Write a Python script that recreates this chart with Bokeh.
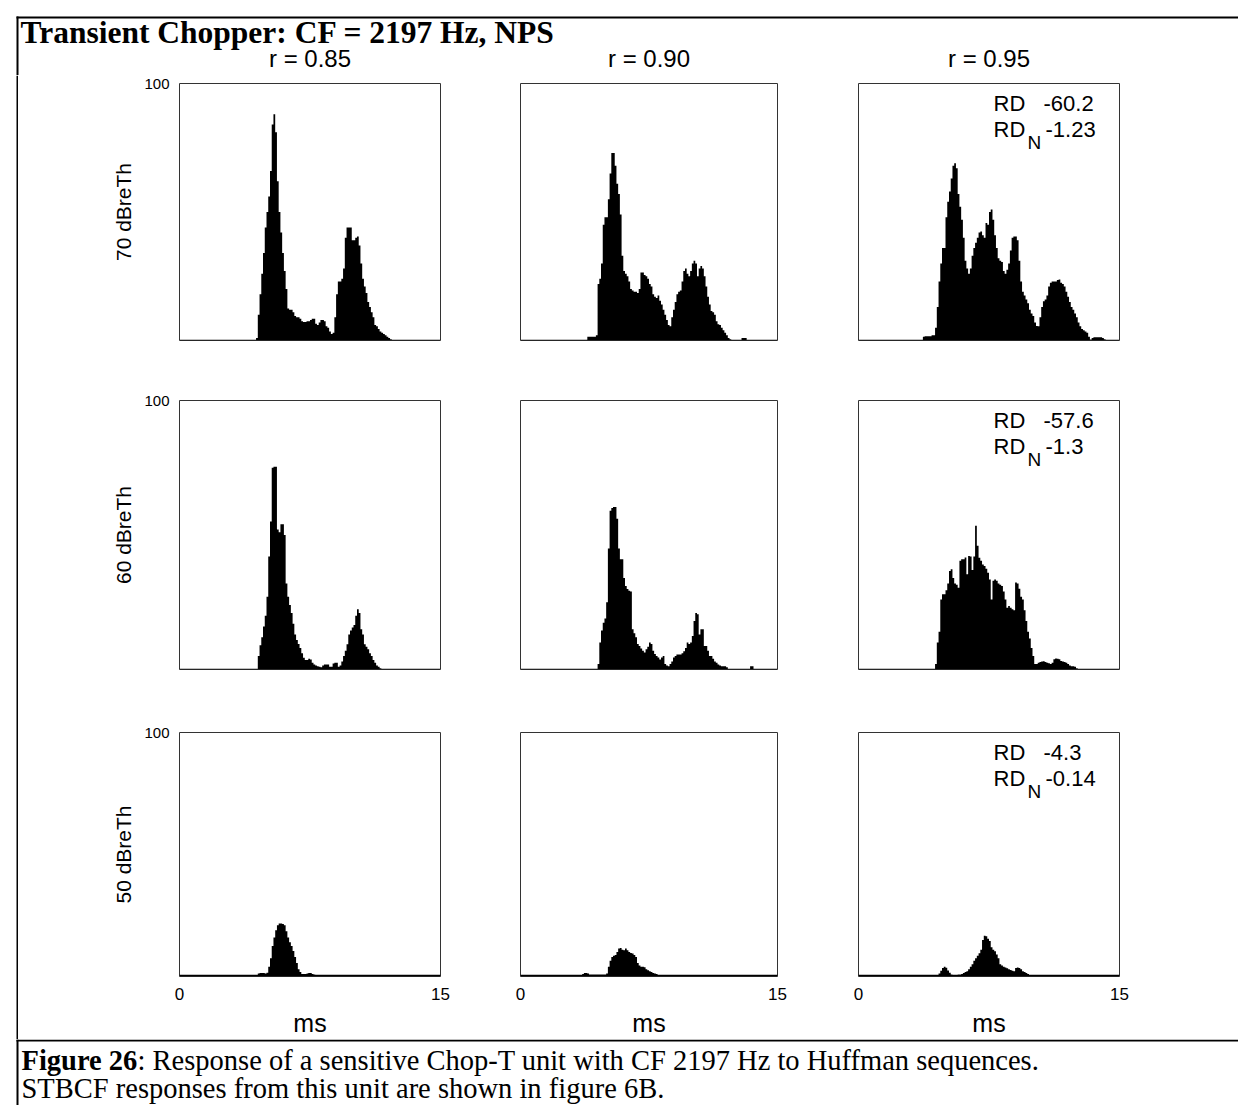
import numpy as np
from bokeh.plotting import figure
from bokeh.models import Range1d, FixedTicker
from bokeh.layouts import row, column
from bokeh.core.properties import value
from bokeh.embed import file_html
from bokeh.resources import INLINE

# ---------------------------------------------------------------- data
BIN_MS = 0.1          # histogram bin width (ms)
T_MAX = 15.0          # analysis window (ms)
RATE_MAX = 100.0      # y-axis top

levels = ["70 dBreTh", "60 dBreTh", "50 dBreTh"]
correlations = ["r = 0.85", "r = 0.90", "r = 0.95"]
x_ticks = [0, 15]
y_ticks = [100]
rd_values = ["-60.2", "-57.6", "-4.3"]
rdn_values = ["-1.23", "-1.3", "-0.14"]
floor_rate = [0.3, 0.3, 0.7]   # spontaneous level outside the listed bins

# 70 dB re threshold: first listed bin (ms) per correlation, then bin values
onset_70 = [4.4, 3.9, 3.7]
rate_70_r085 = [1, 10, 18, 26, 34, 44, 50, 56, 66, 84, 88, 81, 62, 50, 42, 34, 27, 20,
                12.5, 12, 12, 11, 9.5, 9, 9, 8.5, 7.5, 7.2, 7.2, 7.5, 7.5, 8, 8.5, 8.5,
                6.5, 6, 7, 8, 8, 7.5, 5.5, 5, 3.5, 2.5, 3, 9, 18, 23, 23, 24, 28, 40, 44,
                44, 44, 39, 39, 40, 40.5, 37, 30, 24, 21, 18.5, 15, 13, 11, 9, 6, 5.5,
                4.5, 3.5, 3, 2.5, 2, 1.5, 1, 0.5, 0.3]
rate_70_r090 = [1.5, 1.5, 1.5, 1.5, 1.5, 2, 22, 24, 30, 45, 48, 48, 55, 65, 73, 73, 68,
                61, 57, 49, 33, 27, 26, 25, 23, 20, 19.5, 19, 19, 18.5, 20, 26.5, 26.5,
                25.5, 25, 24, 22, 21, 18, 17, 16.5, 17.5, 15.5, 14, 12, 10, 8, 6, 5.5,
                9, 12, 15, 18, 19, 19.5, 23, 27, 28, 26, 25, 27, 30, 31, 30, 25, 28, 29,
                28, 25, 21, 17, 14, 11.5, 11, 10, 7.5, 6.3, 6, 5, 4, 3, 2, 1, 0.5,
                0.3, 0.3, 0.3, 0.3, 0.3, 0.3, 1, 1, 1]
rate_70_r095 = [1.5, 1.7, 1.7, 1.7, 1.7, 2, 2, 5, 13, 23, 30, 36, 36, 48, 54, 58, 63, 68,
                69, 67, 57, 52, 47, 40, 31, 28, 26, 28, 33, 36, 38, 40, 42, 42.4, 41, 40,
                45.7, 45, 50, 51, 47, 41, 36, 32, 31, 30.5, 27, 26, 27.5, 30, 35, 40,
                40.5, 40.5, 39, 31, 23, 19, 17.5, 16, 14.5, 12, 10.5, 9.5, 7, 5.6, 5.5,
                9, 13, 15.3, 16, 17.5, 21, 22.5, 23, 23, 23, 23.5, 23.7, 22.5, 22, 21,
                19, 17, 15, 13, 12, 10.5, 9, 7, 5.5, 4.5, 4, 3.5, 3, 1.5, 0.4, 1, 1.3,
                1.3, 1.3, 1.3, 1.3, 1, 0.5]

# 60 dB re threshold
onset_60 = [4.5, 4.5, 4.4]
rate_60_r085 = [5, 9, 12, 16, 20, 27, 42, 55, 75, 75.4, 75.4, 52, 51, 54, 54, 50, 32, 27,
                24, 21, 17, 13, 11, 9.5, 8, 6, 4.4, 3.5, 3.5, 4, 3.7, 2.5, 1.9, 1.5, 1.2,
                1, 0.8, 1.5, 1.9, 1.9, 1.9, 1, 1, 2.2, 2.5, 2.5, 1, 1.5, 3, 5, 7, 9.4,
                13, 14.5, 15.6, 16.5, 20, 22.4, 21, 15, 13, 9.4, 8.5, 7.5, 6, 5, 3.5,
                2.5, 1.5, 1, 0.5]
rate_60_r090 = [2, 10, 14.5, 17.4, 19, 25, 45, 59, 60, 60.4, 60.4, 56, 45, 41, 41, 34, 31,
                29.9, 29.3, 29, 15, 13.5, 12, 9.5, 8.7, 7.8, 7, 6.3, 7.5, 8.5, 10, 9.5,
                7, 5.8, 5, 4.5, 3.7, 4.5, 5, 2, 1.5, 1.2, 2, 3, 4.5, 5, 5.6, 5.6, 5.6,
                6, 6.8, 8, 10, 9.5, 10, 12.5, 18, 21, 20.5, 13, 15, 15, 8.7, 8.7, 7, 5,
                5, 4, 3, 2.5, 1.9, 1.5, 1.2, 1.2, 1.2, 0.8, 0.3, 0.3, 0.3, 0.3, 0.3,
                0.3, 0.3, 0.3, 0.3, 0.3, 0.3, 0.3, 0.3, 1.2, 1.2]
rate_60_r095 = [2, 10, 14, 26, 28, 28, 29.5, 32, 36.6, 37.3, 34, 32, 31.5, 30.4, 40.4, 41,
                41, 41.6, 35.4, 42.2, 42, 37, 42, 53.4, 46, 41.5, 40.4, 39, 38.5, 37.5,
                36, 33.5, 26, 33, 33.5, 33, 32, 31.5, 31, 29, 26, 23, 23.6, 23, 22.4,
                22, 32.3, 32, 30, 27, 26, 22, 18, 14, 11.5, 8, 5, 2, 2, 2.5, 2.8, 3,
                3.1, 2.8, 2.5, 2.3, 2, 2.5, 3.8, 4.1, 4, 3.8, 3.2, 3, 2.8, 2.5, 2, 1.5,
                1.2, 1.2, 1, 0.5]

# 50 dB re threshold
onset_50 = [4.5, 3.6, 4.5]
rate_50_r085 = [1.2, 1.4, 1.4, 1.4, 1.2, 1.5, 4, 7.5, 12.5, 16, 19, 21, 21.7, 21.7, 21.5,
                21, 18.5, 16, 14, 12.5, 10.5, 8, 5.5, 3, 1.8, 1, 1, 1, 1.2, 1.4, 1.4, 1,
                0.8]
rate_50_r090 = [1, 1.4, 1.4, 1.2, 0.8, 0.8, 0.8, 0.8, 0.8, 0.8, 0.8, 0.8, 0.8, 0.8, 1.2,
                4, 6.5, 8, 8.5, 8.8, 10, 11.5, 11.7, 11, 10.8, 11.5, 10.8, 10, 9.6, 9.4,
                8.8, 8, 5.5, 4.5, 4, 4, 3.8, 3, 2.6, 2.2, 1.8, 1.4, 1.2, 1]
rate_50_r095 = [0.7, 1.2, 2.4, 3.5, 4, 3.6, 2.5, 1.5, 0.8, 0.7, 0.7, 0.7, 0.8, 0.8, 1, 1.4,
                1.8, 2.2, 3, 4, 5, 6.5, 7.5, 8.5, 9.5, 11, 15, 16.7, 16.5, 15.5, 14.5,
                12, 11, 10.3, 9, 7.5, 5, 4.5, 4, 3.7, 3.4, 3, 2.7, 2.4, 2.2, 3.5, 3.7,
                3.5, 3, 2.2, 1.8, 1.4, 1, 0.7]

onsets = [onset_70, onset_60, onset_50]
rates = [[rate_70_r085, rate_70_r090, rate_70_r095],
         [rate_60_r085, rate_60_r090, rate_60_r095],
         [rate_50_r085, rate_50_r090, rate_50_r095]]

title_text = "Transient Chopper: CF = 2197 Hz, NPS"
caption_bold = "Figure 26"
caption_line1 = ": Response of a sensitive Chop-T unit with CF 2197 Hz to Huffman sequences."
caption_line2 = "STBCF responses from this unit are shown in figure 6B."

# ---------------------------------------------------------------- layout
SANS = "Liberation Sans"
SERIF = "Liberation Serif"

PAGE_W, PAGE_H = 1238, 1105
EDGE = 16                    # white margin outside the ruled box
RULE = 2                     # width of the box lines
BODY_X0 = EDGE + RULE
SEP_Y = 1039                 # rule between figure and caption
HEAD_END = 75                # bottom of the title strip

FRAME_X = [(179, 440), (520, 777), (858, 1119)]
FRAME_Y = [(83, 340), (400, 669), (732, 976)]
x_splits = [BODY_X0, 480, 818, PAGE_W]
y_splits = [HEAD_END, 370, 700, SEP_Y]

col_geom = [(FRAME_X[c][0] - x_splits[c], FRAME_X[c][1] - FRAME_X[c][0],
             x_splits[c + 1] - FRAME_X[c][1]) for c in range(3)]
row_geom = [(FRAME_Y[r][0] - y_splits[r], FRAME_Y[r][1] - FRAME_Y[r][0],
             y_splits[r + 1] - FRAME_Y[r][1]) for r in range(3)]

N_BINS = int(round(T_MAX / BIN_MS))
edges = np.round(np.arange(N_BINS + 1) * BIN_MS, 3)
RULE_MID = EDGE + RULE / 2


def binned(onset, vals, floor):
    out = np.full(N_BINS, floor, dtype=float)
    i0 = int(round(onset / BIN_MS))
    out[i0:i0 + len(vals)] = vals
    return out


def canvas(w, h):
    """Plain pixel-space figure used for rules and free text."""
    p = figure(width=w, height=h, x_range=Range1d(0, w), y_range=Range1d(h, 0),
               toolbar_location=None, output_backend="svg",
               x_axis_location=None, y_axis_location=None, min_border=0)
    p.outline_line_color = None
    p.grid.visible = False
    return p


def style_axis(ax, ticks, tick_size, tick_standoff, label, label_size, label_standoff):
    ax.ticker = FixedTicker(ticks=ticks)
    ax.major_tick_line_color = None
    ax.minor_tick_line_color = None
    ax.axis_line_color = None
    ax.major_label_standoff = tick_standoff
    ax.major_label_text_font = SANS
    ax.major_label_text_font_size = tick_size
    ax.major_label_text_color = "black"
    ax.axis_label = label
    ax.axis_label_text_font = SANS
    ax.axis_label_text_font_size = label_size
    ax.axis_label_text_font_style = "normal"
    ax.axis_label_text_color = "black"
    ax.axis_label_standoff = label_standoff


def panel(ri, ci):
    left, fw, right = col_geom[ci]
    top, fh, bottom = row_geom[ri]
    p = figure(width=left + fw + right, height=top + fh + bottom,
               x_range=Range1d(0, T_MAX), y_range=Range1d(0, RATE_MAX),
               toolbar_location=None, output_backend="svg",
               x_axis_location="below" if ri == 2 else None,
               y_axis_location="left" if ci == 0 else None,
               min_border_left=left, min_border_right=right,
               min_border_top=top, min_border_bottom=bottom)
    p.grid.visible = False
    p.outline_line_color = "#333333"
    p.outline_line_width = 1

    counts = binned(onsets[ri][ci], rates[ri][ci], floor_rate[ri])
    p.varea_step(x=edges, y1=np.zeros(len(edges)), y2=np.append(counts, counts[-1]),
                 step_mode="after", fill_color="black")

    if ci == 0:
        style_axis(p.yaxis[0], y_ticks, "15px", 4, levels[ri], "21px", 6)
    if ri == 2:
        style_axis(p.xaxis[0], x_ticks, "17px", 5, "ms", "25px", 6)

    if ci == 2:
        common = dict(text_font=value(SANS), text_baseline="middle",
                      text_align="left", text_color="black")
        p.text(x=[T_MAX], y=[RATE_MAX], text=["RD"], x_offset=-126, y_offset=20,
               text_font_size="22px", **common)
        p.text(x=[T_MAX], y=[RATE_MAX], text=[rd_values[ri]], x_offset=-76, y_offset=20,
               text_font_size="22px", **common)
        p.text(x=[T_MAX], y=[RATE_MAX], text=["RD"], x_offset=-126, y_offset=46,
               text_font_size="22px", **common)
        p.text(x=[T_MAX], y=[RATE_MAX], text=["N"], x_offset=-92, y_offset=59,
               text_font_size="19px", **common)
        p.text(x=[T_MAX], y=[RATE_MAX], text=[rdn_values[ri]], x_offset=-74, y_offset=46,
               text_font_size="22px", **common)
    return p


# title strip: top rule, start of the left rule, title and column headings
header = canvas(PAGE_W, HEAD_END)
header.segment(x0=[EDGE], y0=[RULE_MID], x1=[PAGE_W], y1=[RULE_MID],
               line_width=RULE, line_color="black")
header.segment(x0=[RULE_MID], y0=[EDGE], x1=[RULE_MID], y1=[HEAD_END],
               line_width=RULE, line_color="black")
header.text(x=[20], y=[32], text=[title_text],
            text_font=value(SERIF), text_font_style="bold", text_font_size="31.5px",
            text_baseline="middle", text_align="left")
header.text(x=[(a + b) / 2 for a, b in FRAME_X], y=[58] * 3,
            text=correlations, text_font=value(SANS), text_font_size="24px",
            text_baseline="middle", text_align="center")

# left rule alongside the panel grid
left_strip = canvas(BODY_X0, SEP_Y - HEAD_END)
left_strip.segment(x0=[RULE_MID], y0=[0], x1=[RULE_MID], y1=[SEP_Y - HEAD_END],
                   line_width=RULE, line_color="black")

grid_rows = [row(*[panel(r, c) for c in range(3)], spacing=0) for r in range(3)]
body = column(*grid_rows, spacing=0)

# caption under the separating rule
foot_h = PAGE_H - SEP_Y
foot = canvas(PAGE_W, foot_h)
foot.segment(x0=[EDGE], y0=[RULE / 2], x1=[PAGE_W], y1=[RULE / 2],
             line_width=RULE, line_color="black")
foot.segment(x0=[RULE_MID], y0=[0], x1=[RULE_MID], y1=[foot_h],
             line_width=RULE, line_color="black")
foot.text(x=[21], y=[21], text=[caption_bold], text_font=value(SERIF),
          text_font_style="bold", text_font_size="28.5px", text_baseline="middle")
foot.text(x=[21 + 116], y=[21], text=[caption_line1], text_font=value(SERIF),
          text_font_size="28.5px", text_baseline="middle")
foot.text(x=[21], y=[49], text=[caption_line2], text_font=value(SERIF),
          text_font_size="28.5px", text_baseline="middle")

page = column(header, row(left_strip, body, spacing=0), foot, spacing=0)

with open("out.html", "w") as f:
    f.write(file_html(page, INLINE, title="Transient Chopper CF 2197 Hz"))
